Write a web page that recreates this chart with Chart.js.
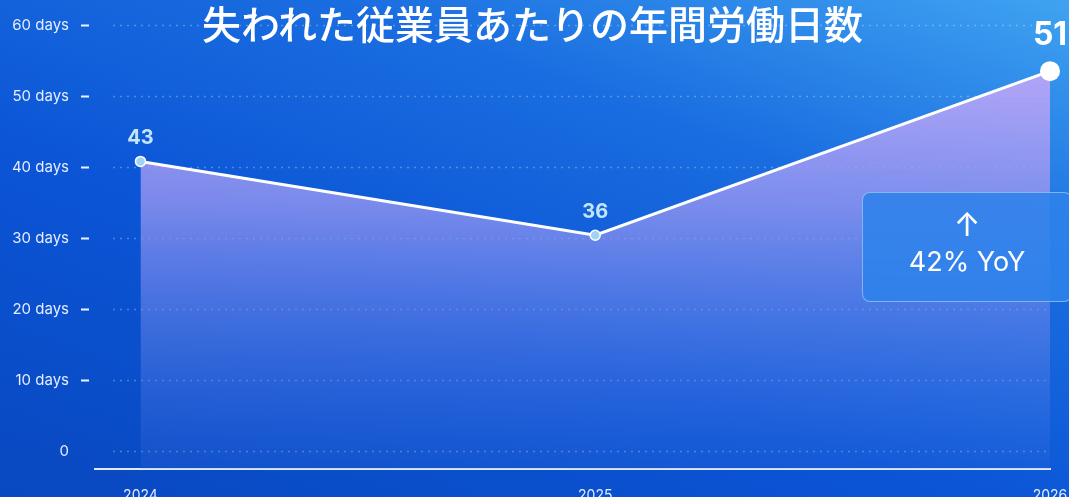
<!DOCTYPE html>
<html>
<head>
<meta charset="utf-8">
<script src="https://cdn.jsdelivr.net/npm/chart.js@4.4.1/dist/chart.umd.min.js"></script>
<style>
  html, body { margin: 0; padding: 0; overflow: hidden; }
  body {
    width: 1069px; height: 497px; position: relative;
    background: linear-gradient(200deg, #3fa3f1 0%, #1a6de0 30%, #0b55d6 60%, #0948c0 100%);
    font-family: Inter, "Noto Sans", sans-serif;
  }
  #chart { position: absolute; left: 0; top: 0; }
  #title {
    position: absolute; left: 0; top: 0; width: 1065px; text-align: center;
    color: #fff; font-family: "Noto Sans CJK JP", sans-serif; font-size: 39px;
    line-height: 44px; font-weight: 500;
  }
  #yoy {
    position: absolute; left: 862px; top: 192px; width: 210px; height: 110px;
    box-sizing: border-box; border: 1.5px solid rgba(255,255,255,0.4); border-radius: 8px;
    background: rgba(45,130,235,0.88); color: #fff; text-align: center;
  }
  #yoy .arrow { font-size: 32px; line-height: 32px; margin-top: 16px; }
  #yoy .txt { font-size: 27px; line-height: 32px; margin-top: 5px; }
</style>
</head>
<body>
<canvas id="chart" width="1069" height="497"></canvas>
<div id="title">失われた従業員あたりの年間労働日数</div>
<div id="yoy"><div class="arrow">↑</div><div class="txt">42% YoY</div></div>
<script>
// data
const years = [2024, 2025, 2026]
const daysLost = [40.8, 30.4, 53.5]
const valueLabels = ['43', '36', '51']
const yTicks = [0, 10, 20, 30, 40, 50, 60]

const gridAndLabels = {
  id: 'gridAndLabels',
  beforeDatasetsDraw(chart) {
    const { ctx, chartArea, scales } = chart
    const y = scales.y
    ctx.save()
    yTicks.forEach(v => {
      const py = Math.round(y.getPixelForValue(v)) + 0.5
      // dotted grid
      ctx.strokeStyle = 'rgba(255,255,255,0.28)'
      ctx.lineWidth = 1.5
      ctx.setLineDash([2, 5])
      ctx.beginPath()
      ctx.moveTo(chartArea.left + 18, py)
      ctx.lineTo(chartArea.right, py)
      ctx.stroke()
      // tick dash
      if (v !== 0) {
        ctx.setLineDash([])
        ctx.strokeStyle = '#eef4ff'
        ctx.lineWidth = 2
        ctx.beginPath()
        ctx.moveTo(chartArea.left - 14, py)
        ctx.lineTo(chartArea.left - 6, py)
        ctx.stroke()
      }
    })
    ctx.restore()
  },
  afterDatasetsDraw(chart) {
    const { ctx } = chart
    const meta = chart.getDatasetMeta(0)
    ctx.save()
    ctx.textAlign = 'center'
    ctx.textBaseline = 'middle'
    meta.data.forEach((pt, i) => {
      const last = i === meta.data.length - 1
      ctx.fillStyle = last ? '#ffffff' : '#c3e6fc'
      ctx.font = last ? 'bold 32px Inter, sans-serif' : 'bold 20px Inter, sans-serif'
      ctx.fillText(valueLabels[i], pt.x, pt.y - (last ? 36 : 23))
    })
    ctx.restore()
  }
}

new Chart(document.getElementById('chart'), {
  type: 'line',
  data: {
    datasets: [{
      data: years.map((yr, i) => ({ x: yr, y: daysLost[i] })),
      borderColor: '#ffffff',
      borderWidth: 3,
      tension: 0,
      fill: 'start',
      backgroundColor: (c) => {
        const area = c.chart.chartArea
        if (!area) return 'rgba(0,0,0,0)'
        const g = c.chart.ctx.createLinearGradient(0, area.top, 0, area.bottom)
        g.addColorStop(0, 'rgba(200,172,250,0.98)')
        g.addColorStop(0.4, 'rgba(150,150,240,0.8)')
        g.addColorStop(1, 'rgba(70,120,230,0.15)')
        return g
      },
      pointRadius: [5, 5, 10],
      pointBackgroundColor: ['#9fd3f7', '#9fd3f7', '#ffffff'],
      pointBorderColor: '#ffffff',
      pointBorderWidth: [1.5, 1.5, 0],
      clip: false
    }]
  },
  options: {
    responsive: false,
    animation: false,
    layout: { padding: { top: 25, right: 19, left: 0, bottom: 0 } },
    plugins: { legend: { display: false }, tooltip: { enabled: false } },
    scales: {
      x: {
        type: 'linear',
        min: 2023.9,
        max: 2026,
        afterBuildTicks: s => { s.ticks = years.map(v => ({ value: v })) },
        afterFit: s => { s.height = 28; s.paddingLeft = 0; s.paddingRight = 0 },
        ticks: {
          callback: v => String(v),
          color: '#e3ecff',
          font: { size: 14, family: 'Inter' },
          padding: 18,
          maxRotation: 0,
          autoSkip: false
        },
        grid: { display: false, drawTicks: false },
        border: { display: true, color: '#dfe9ff', width: 2 }
      },
      y: {
        min: -2.5,
        max: 60,
        afterBuildTicks: s => { s.ticks = yTicks.map(v => ({ value: v })) },
        afterFit: s => { s.width = 95; s.paddingTop = 0; s.paddingBottom = 0 },
        ticks: {
          callback: v => v === 0 ? '0' : v + ' days',
          color: '#e6eeff',
          font: { size: 15, family: 'Inter' },
          padding: 26
        },
        grid: { display: false, drawTicks: false },
        border: { display: false }
      }
    }
  },
  plugins: [gridAndLabels]
})
</script>
</body>
</html>
